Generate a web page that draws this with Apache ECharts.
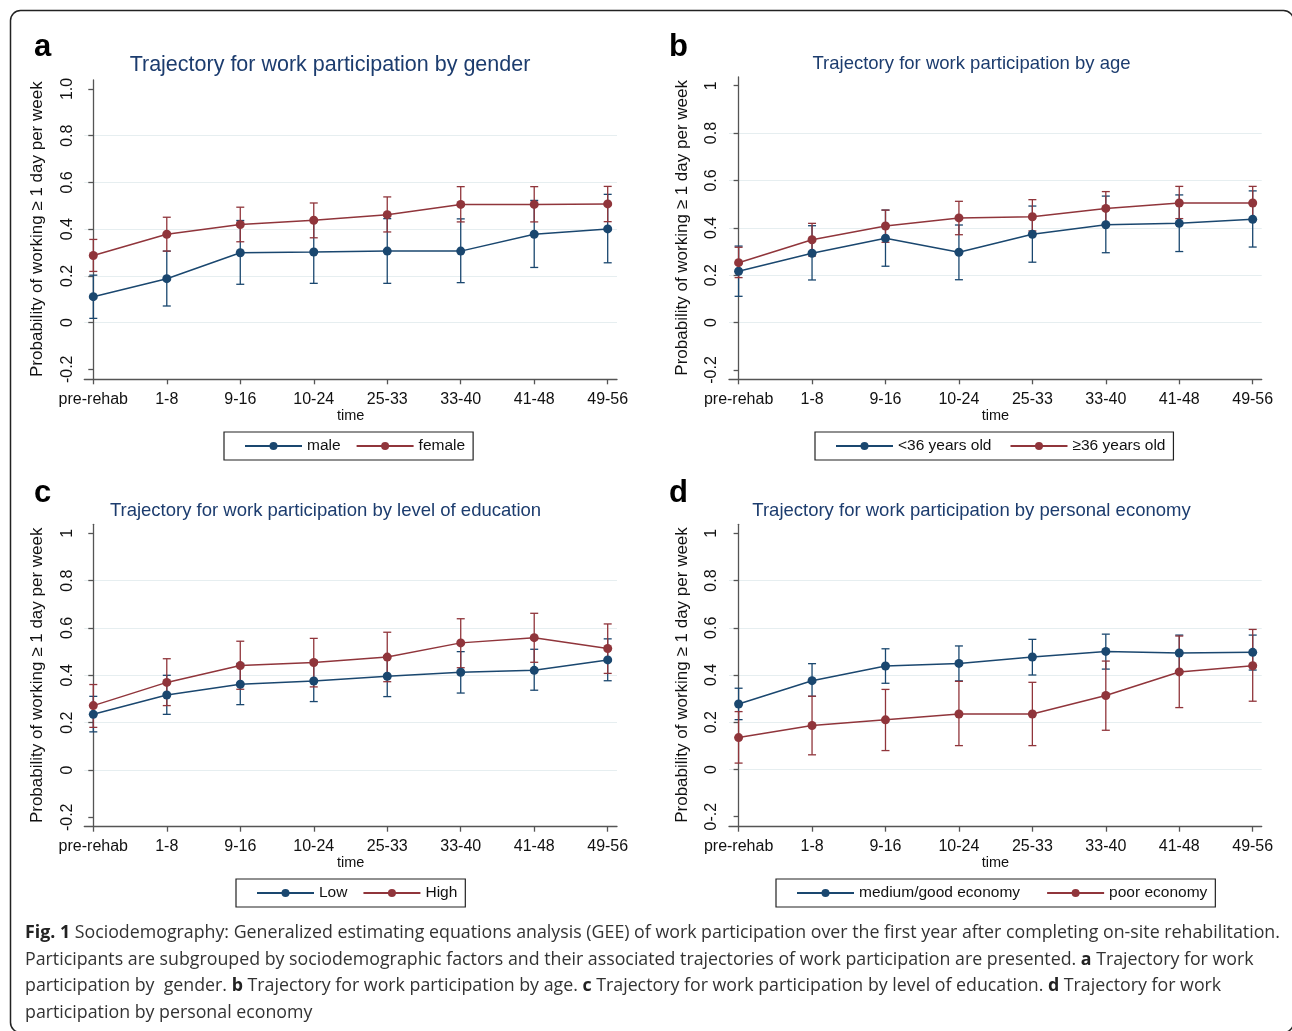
<!DOCTYPE html>
<html>
<head>
<meta charset="utf-8">
<script src="https://cdn.jsdelivr.net/npm/echarts@6.0.0/dist/echarts.min.js"></script>
<style>
	html, body { margin: 0; padding: 0; background: #fff; }
	#chart { width: 1292px; height: 1031px; }
</style>
</head>
<body>
<div id="chart"></div>
<script>
const categories = ['pre-rehab', '1-8', '9-16', '10-24', '25-33', '33-40', '41-48', '49-56'];

// a - gender
const maleMean = [0.111, 0.188, 0.299, 0.302, 0.306, 0.306, 0.378, 0.401];
const maleLow = [0.018, 0.071, 0.164, 0.168, 0.168, 0.171, 0.236, 0.256];
const maleHigh = [0.203, 0.306, 0.437, 0.440, 0.445, 0.444, 0.523, 0.549];
const femaleMean = [0.287, 0.378, 0.420, 0.438, 0.462, 0.506, 0.506, 0.508];
const femaleLow = [0.219, 0.306, 0.346, 0.363, 0.388, 0.431, 0.431, 0.432];
const femaleHigh = [0.356, 0.451, 0.494, 0.512, 0.538, 0.582, 0.582, 0.583];

// b - age
const youngMean = [0.217, 0.293, 0.356, 0.297, 0.373, 0.413, 0.419, 0.436];
const youngLow = [0.111, 0.180, 0.238, 0.181, 0.255, 0.295, 0.300, 0.319];
const youngHigh = [0.323, 0.409, 0.475, 0.412, 0.492, 0.534, 0.539, 0.556];
const olderMean = [0.253, 0.350, 0.408, 0.442, 0.447, 0.482, 0.505, 0.505];
const olderLow = [0.190, 0.281, 0.339, 0.371, 0.387, 0.415, 0.439, 0.439];
const olderHigh = [0.318, 0.419, 0.475, 0.512, 0.519, 0.553, 0.575, 0.575];

// c - education
const lowMean = [0.235, 0.317, 0.362, 0.376, 0.396, 0.413, 0.421, 0.465];
const lowLow = [0.161, 0.235, 0.276, 0.289, 0.310, 0.325, 0.337, 0.377];
const lowHigh = [0.311, 0.400, 0.450, 0.462, 0.482, 0.500, 0.510, 0.554];
const highMean = [0.272, 0.370, 0.441, 0.454, 0.477, 0.537, 0.559, 0.513];
const highLow = [0.180, 0.272, 0.341, 0.351, 0.373, 0.432, 0.455, 0.408];
const highHigh = [0.361, 0.470, 0.544, 0.556, 0.582, 0.639, 0.662, 0.617];

// d - personal economy
const goodMean = [0.277, 0.376, 0.438, 0.449, 0.476, 0.500, 0.493, 0.496];
const goodLow = [0.211, 0.310, 0.365, 0.375, 0.400, 0.425, 0.418, 0.421];
const goodHigh = [0.344, 0.448, 0.511, 0.523, 0.551, 0.573, 0.569, 0.569];
const poorMean = [0.135, 0.186, 0.210, 0.235, 0.235, 0.313, 0.413, 0.439];
const poorLow = [0.027, 0.062, 0.080, 0.101, 0.101, 0.166, 0.262, 0.289];
const poorHigh = [0.245, 0.310, 0.339, 0.373, 0.369, 0.459, 0.565, 0.593];

// y tick labels (-0.2 .. 1)
const yLabelsA = ['-0.2', '0', '0.2', '0.4', '0.6', '0.8', '1.0'];
const yLabelsBC = ['-0.2', '0', '0.2', '0.4', '0.6', '0.8', '1'];
const yLabelsD = ['0-.2', '0', '0.2', '0.4', '0.6', '0.8', '1'];

const titles = [
	'Trajectory for work participation by gender',
	'Trajectory for work participation by age',
	'Trajectory for work participation by level of education',
	'Trajectory for work participation by personal economy'
];
const groupNames = [
	['male', 'female'],
	['<36 years old', '\u226536 years old'],
	['Low', 'High'],
	['medium/good economy', 'poor economy']
];

const BLUE = '#1a476f';
const RED = '#90353b';
const TITLE_COLOR = '#1c3c6e';
const AXIS_COLOR = '#555';
const FONT = 'Liberation Sans, Arial';

// layout of each panel (pixels)
const panels = [
	{ letter: 'a', ax: 84.3, axEnd: 617, first: 93.3, last: 607.7, axTop: 80, yTop: 89, yBot: 369.3, axBot: 379.3,
		titleX: 330, titleY: 65.5, titleSize: 21.5, letterX: 34, letterY: 57, legX: 224, legY: 432, legGap: 15,
		labels: yLabelsA, groups: [[maleMean, maleLow, maleHigh], [femaleMean, femaleLow, femaleHigh]] },
	{ letter: 'b', ax: 729, axEnd: 1261.7, first: 738.6, last: 1252.7, axTop: 77, yTop: 85.7, yBot: 370, axBot: 379.3,
		titleX: 971.5, titleY: 63.5, titleSize: 18.5, letterX: 669, letterY: 57, legX: 815, legY: 432, legGap: 18,
		labels: yLabelsBC, groups: [[youngMean, youngLow, youngHigh], [olderMean, olderLow, olderHigh]] },
	{ letter: 'c', ax: 84.3, axEnd: 617, first: 93.3, last: 607.7, axTop: 524.3, yTop: 533.3, yBot: 817.3, axBot: 826.7,
		titleX: 325.5, titleY: 511, titleSize: 18.5, letterX: 34, letterY: 503, legX: 236, legY: 879, legGap: 15,
		labels: yLabelsBC, groups: [[lowMean, lowLow, lowHigh], [highMean, highLow, highHigh]] },
	{ letter: 'd', ax: 729, axEnd: 1261.7, first: 738.6, last: 1252.7, axTop: 524.3, yTop: 533.3, yBot: 816.7, axBot: 826.7,
		titleX: 971.5, titleY: 511, titleSize: 18.5, letterX: 669, letterY: 503, legX: 776, legY: 879, legGap: 26,
		labels: yLabelsD, groups: [[goodMean, goodLow, goodHigh], [poorMean, poorLow, poorHigh]] }
];

function renderErrorBar(params, api) {
	const x = api.value(0);
	const lo = api.coord([x, api.value(1)]);
	const hi = api.coord([x, api.value(2)]);
	const half = 4;
	const style = { stroke: api.visual('color'), lineWidth: 1.3 };
	return {
		type: 'group',
		children: [
			{ type: 'line', shape: { x1: lo[0], y1: lo[1], x2: hi[0], y2: hi[1] }, style: style },
			{ type: 'line', shape: { x1: lo[0] - half, y1: lo[1], x2: lo[0] + half, y2: lo[1] }, style: style },
			{ type: 'line', shape: { x1: hi[0] - half, y1: hi[1], x2: hi[0] + half, y2: hi[1] }, style: style }
		]
	};
}

let grids = [];
let xAxes = [];
let yAxes = [];
let series = [];
let legends = [];
let graphics = [];
const tickIdx = categories.map((c, i) => i);

panels.forEach((p, k) => {
	const step = (p.last - p.first) / (categories.length - 1);
	const xMin = -(p.first - p.ax) / step;
	const xMax = categories.length - 1 + (p.axEnd - p.last) / step;
	const frame = grids.length;
	const inner = frame + 1;

	// frame grid: axis lines, x ticks and labels
	grids.push({ left: p.ax, top: p.axTop, width: p.axEnd - p.ax, height: p.axBot - p.axTop });
	// data grid: y range -0.2..1
	grids.push({ left: p.ax, top: p.yTop, width: p.axEnd - p.ax, height: p.yBot - p.yTop });

	xAxes.push({
		type: 'value', gridIndex: frame, min: xMin, max: xMax,
		axisLine: { show: true, onZero: false, lineStyle: { color: AXIS_COLOR, width: 1.3 } },
		axisTick: { show: true, length: 5, customValues: tickIdx, lineStyle: { color: AXIS_COLOR, width: 1.3 } },
		axisLabel: {
			show: true, customValues: tickIdx, margin: 12, fontSize: 16, color: '#111', fontFamily: FONT,
			formatter: (v) => categories[Math.round(v)]
		},
		splitLine: { show: false },
		name: 'time', nameLocation: 'middle', nameGap: 29,
		nameTextStyle: { fontSize: 14.5, color: '#111', fontFamily: FONT }
	});
	xAxes.push({
		type: 'value', gridIndex: inner, min: xMin, max: xMax,
		axisLine: { show: false }, axisTick: { show: false }, axisLabel: { show: false }, splitLine: { show: false }
	});

	yAxes.push({
		type: 'value', gridIndex: frame, min: 0, max: 1,
		axisLine: { show: true, lineStyle: { color: AXIS_COLOR, width: 1.3 } },
		axisTick: { show: false }, axisLabel: { show: false }, splitLine: { show: false }
	});
	yAxes.push({
		type: 'value', gridIndex: inner, min: -0.2, max: 1, interval: 0.2,
		axisLine: { show: false },
		axisTick: { show: true, length: 5, lineStyle: { color: AXIS_COLOR, width: 1.3 } },
		axisLabel: {
			rotate: 90, margin: 9, fontSize: 16, color: '#111', fontFamily: FONT,
			formatter: (v) => p.labels[Math.round((v + 0.2) / 0.2)]
		},
		splitLine: { show: true, showMinLine: false, showMaxLine: false, lineStyle: { color: '#e6eef0', width: 1.2 } },
		name: 'Probability of working \u2265 1 day per week',
		nameLocation: 'middle', nameRotate: 90, nameGap: 38,
		nameTextStyle: { fontSize: 17, color: '#111', fontFamily: FONT }
	});

	const colors = [BLUE, RED];
	p.groups.forEach((g, j) => {
		series.push({
			name: groupNames[k][j] + ' CI',
			type: 'custom', xAxisIndex: inner, yAxisIndex: inner,
			renderItem: renderErrorBar,
			itemStyle: { color: colors[j] },
			encode: { x: 0, y: [1, 2] },
			data: g[1].map((lo, i) => [i, lo, g[2][i]]),
			z: 2
		});
	});
	p.groups.forEach((g, j) => {
		series.push({
			name: groupNames[k][j],
			type: 'line', xAxisIndex: inner, yAxisIndex: inner,
			symbol: 'circle', symbolSize: 9,
			itemStyle: { color: colors[j] },
			lineStyle: { color: colors[j], width: 1.5 },
			data: g[0].map((v, i) => [i, v]),
			z: 3
		});
	});

	legends.push({
		data: groupNames[k], left: p.legX, top: p.legY, orient: 'horizontal',
		itemWidth: 57, itemHeight: 10, itemGap: p.legGap,
		padding: [6, 8, 6, 20], borderColor: '#222', borderWidth: 1.2,
		textStyle: { fontSize: 15.5, color: '#111', fontFamily: FONT },
		selectedMode: false
	});

	graphics.push({
		type: 'text', left: p.letterX, top: p.letterY - 25,
		style: { text: p.letter, fontSize: 31, fontWeight: 'bold', fill: '#000', fontFamily: FONT }
	});
	graphics.push({
		type: 'text', x: p.titleX, y: p.titleY,
		style: {
			text: titles[k], fontSize: p.titleSize, fill: TITLE_COLOR, fontFamily: FONT,
			align: 'center', verticalAlign: 'middle'
		}
	});
});

// caption under the panels
const captionLines = [
	'{b|Fig. 1} Sociodemography: Generalized estimating equations analysis (GEE) of work participation over the first year after completing on-site rehabilitation.',
	'Participants are subgrouped by sociodemographic factors and their associated trajectories of work participation are presented. {b|a} Trajectory for work',
	'participation by  gender. {b|b} Trajectory for work participation by age. {b|c} Trajectory for work participation by level of education. {b|d} Trajectory for work',
	'participation by personal economy'
];
captionLines.forEach((line, i) => {
	graphics.push({
		type: 'text', x: 25, y: 933 + i * 26.6,
		style: {
			text: line, fontSize: 17.8, fill: '#333', fontFamily: 'Open Sans',
			verticalAlign: 'middle',
			rich: { b: { fontSize: 17.8, fontWeight: 'bold', fill: '#222', fontFamily: 'Open Sans' } }
		}
	});
});

// rounded frame around the figure
graphics.push({
	type: 'rect', shape: { x: 10.5, y: 10.5, width: 1283, height: 1022, r: 10 },
	style: { fill: 'none', stroke: '#222', lineWidth: 1.5 }, z: -1
});

const chart = echarts.init(document.getElementById('chart'));
chart.setOption({
	animation: false,
	backgroundColor: '#fff',
	grid: grids,
	xAxis: xAxes,
	yAxis: yAxes,
	legend: legends,
	series: series,
	graphic: graphics
});
</script>
</body>
</html>
